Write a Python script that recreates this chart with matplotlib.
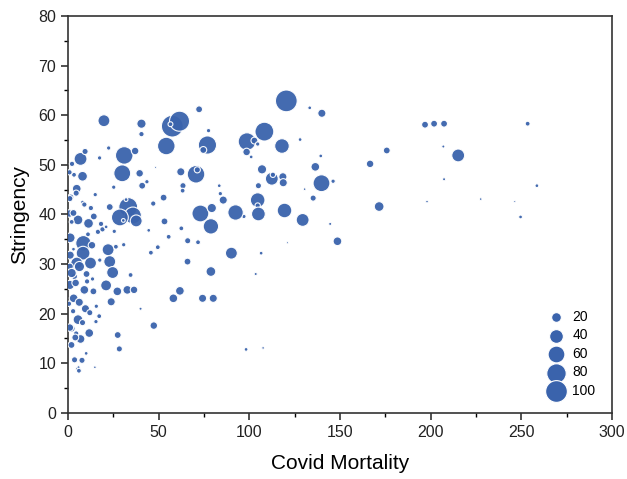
import matplotlib.pyplot as plt

plt.rcParams['font.family'] = ['Liberation Sans', 'DejaVu Sans']

# covid mortality, stringency index, bubble size
mortality = [
    120.4, 57.5, 61.5, 56.5, 19.8, 72.3, 133.3, 140.0, 40.5, 40.5,
    54.2, 76.9, 74.6, 77.5, 98.7, 102.8, 104.6, 98.5, 101.0, 108.3,
    118.0, 128.0, 139.4, 107.0, 112.4, 113.0, 118.5, 118.7, 105.0, 136.4,
    139.8, 146.2, 135.2, 104.6, 104.6, 105.0, 97.0, 119.4, 129.4, 148.6,
    144.6, 171.6, 175.8, 166.6, 196.9, 201.9, 207.4, 253.5, 215.2, 207.0,
    207.4, 258.6, 249.6, 198.0, 227.6, 246.4, 130.5, 121.0, 103.5, 106.5,
    92.4, 73.0, 79.3, 78.8, 85.6, 84.0, 53.2, 62.5, 55.5, 66.0,
    71.7, 49.5, 45.7, 90.1, 65.9, 78.8, 61.7, 58.1, 74.2, 80.1,
    62.2, 70.6, 71.3, 63.4, 63.2, 83.4, 52.7, 48.3, 47.0, 47.3,
    27.4, 28.3, 3.6, 7.7, 5.2, 6.9, 11.7, 1.9, 8.5, 8.3,
    12.4, 22.1, 23.0, 24.6, 26.4, 30.7, 21.0, 27.2, 32.7, 36.4,
    23.8, 9.0, 3.1, 9.6, 5.5, 14.0, 15.4, 4.8, 6.9, 9.4,
    8.0, 3.3, 4.8, 4.5, 17.4, 22.4, 31.0, 37.0, 29.9, 40.9,
    39.5, 15.0, 25.2, 33.2, 35.8, 28.6, 37.6, 5.5, 14.2, 18.2,
    12.6, 23.0, 11.3, 16.5, 3.5, 2.8, 1.2, 1.0, 1.5, 2.0,
    4.5, 17.2, 10.5, 13.5, 15.6, 1.0, 0.8, 19.0, 25.5, 30.5,
    34.5, 43.5, 98.2, 107.6, 5.8, 14.8, 40.0, 2.0, 0.8, 6.0,
    10.0, 21.0, 32.0, 44.5, 8.0, 3.0,
    2.0, 4.2, 6.3, 1.2, 10.2, 13.2, 3.0, 1.0, 2.2, 9.0,
    6.2, 12.0, 1.0, 4.0, 8.0, 17.5, 0.5, 11.0,
]
stringency = [
    62.9, 57.8, 58.8, 58.2, 58.9, 61.2, 61.5, 60.4, 58.3, 56.2,
    53.8, 54.0, 53.0, 56.9, 54.7, 54.9, 54.2, 52.6, 51.6, 56.7,
    53.8, 55.1, 51.8, 49.1, 47.2, 48.0, 47.6, 46.4, 45.8, 49.6,
    46.3, 46.7, 43.3, 42.9, 41.8, 40.1, 39.6, 40.8, 38.9, 34.6,
    38.1, 41.6, 52.9, 50.2, 58.1, 58.3, 58.3, 58.3, 51.9, 53.7,
    47.1, 45.8, 39.5, 42.6, 43.1, 42.6, 45.1, 34.3, 28.0, 32.2,
    40.4, 40.2, 41.3, 37.6, 42.9, 44.2, 38.6, 37.2, 35.5, 34.7,
    34.4, 33.4, 32.3, 32.2, 30.5, 28.5, 24.6, 23.1, 23.1, 23.1,
    48.6, 48.1, 49.0, 45.8, 44.8, 45.8, 43.4, 49.5, 42.2, 17.6,
    15.7, 12.9, 10.7, 10.6, 8.9, 14.9, 16.1, 13.7, 34.2, 32.2,
    30.2, 32.9, 30.5, 28.3, 33.5, 33.9, 25.7, 24.5, 24.8, 24.8,
    22.4, 24.8, 23.1, 21.0, 18.8, 24.5, 18.4, 30.2, 51.2, 52.7,
    47.7, 48.0, 45.2, 44.3, 51.4, 53.4, 51.9, 52.8, 48.3, 45.8,
    48.3, 44.0, 45.5, 41.5, 39.8, 39.4, 38.7, 38.9, 39.6, 38.1,
    41.3, 41.5, 38.2, 36.5, 27.5, 20.5, 35.3, 25.8, 43.5, 17.0,
    16.0, 19.5, 26.5, 27.0, 21.5, 29.5, 40.2, 37.0, 36.6, 38.8,
    27.8, 46.6, 12.8, 13.1, 9.2, 9.2, 21.0, 38.5, 48.5, 8.5,
    12.0, 37.5, 43.0, 36.8, 42.5, 33.0,
    28.2, 26.2, 29.5, 31.8, 28.0, 33.8, 40.3, 43.2, 50.2, 42.0,
    22.3, 20.2, 17.2, 15.2, 18.2, 30.8, 22.0, 36.0,
]
bubble = [
    100, 100, 85, 5, 30, 10, 3, 14, 18, 6,
    65, 70, 10, 4, 65, 10, 4, 12, 3, 75,
    45, 3, 3, 18, 35, 6, 14, 14, 8, 16,
    60, 4, 8, 45, 6, 40, 4, 45, 35, 16,
    2, 20, 10, 12, 10, 10, 10, 5, 35, 2,
    2, 3, 3, 1.5, 1.5, 1, 1.5, 1, 2, 3,
    50, 60, 18, 50, 14, 4, 10, 5, 5, 8,
    5, 5, 5, 30, 10, 20, 16, 16, 14, 14,
    14, 65, 8, 8, 5, 3, 10, 1, 6, 12,
    10, 8, 8, 8, 3, 16, 16, 10, 50, 40,
    30, 30, 30, 30, 5, 4, 25, 16, 16, 12,
    14, 16, 16, 14, 20, 10, 4, 30, 35, 8,
    20, 5, 16, 8, 4, 4, 65, 12, 60, 10,
    12, 4, 4, 75, 60, 60, 30, 20, 10, 6,
    6, 10, 20, 6, 8, 6, 20, 18, 8, 10,
    6, 5, 6, 4, 4, 10, 12, 6, 4, 3,
    5, 4, 3, 1.5, 2, 1.5, 2, 5, 6, 5,
    3, 3, 3, 3, 3, 3,
    18, 12, 22, 14, 10, 12, 10, 8, 6, 6,
    14, 8, 12, 10, 8, 4, 6, 5,
]

sizes = [b * 2.45 for b in bubble]
legend_values = [20, 40, 60, 80, 100]

fig = plt.figure(figsize=(6.27, 4.79), dpi=100)
ax = fig.add_axes([0.1085, 0.138, 0.8675, 0.8285])

blue = '#3a63ac'
ax.scatter(mortality, stringency, s=sizes, c=blue, alpha=0.95,
           edgecolors='white', linewidths=0.8, zorder=3)

for v in legend_values:
    ax.scatter([], [], s=v * 2.45, c=blue, edgecolors='white',
               linewidths=0.8, label=str(v))
ax.legend(loc='lower right', frameon=False, scatterpoints=1, fontsize=10,
          labelspacing=0.32, handletextpad=0.2, borderpad=0.3,
          bbox_to_anchor=(0.99, 0.01))

ax.set_xlim(0, 300)
ax.set_ylim(0, 80)
ax.set_xticks([0, 50, 100, 150, 200, 250, 300])
ax.set_xticks([25, 75, 125, 175, 225, 275], minor=True)
ax.set_yticks(range(0, 81, 10))
ax.set_yticks(range(5, 80, 10), minor=True)
ax.tick_params(labelsize=11.5, colors='#222222', length=5, width=1.1)
ax.tick_params(which='minor', length=3, width=1.0)
for sp in ax.spines.values():
    sp.set_color('#333333')
    sp.set_linewidth(1.2)

ax.set_xlabel('Covid Mortality', fontsize=15, labelpad=10)
ax.set_ylabel('Stringency', fontsize=15, labelpad=7)

fig.savefig('out.png', dpi=100)
